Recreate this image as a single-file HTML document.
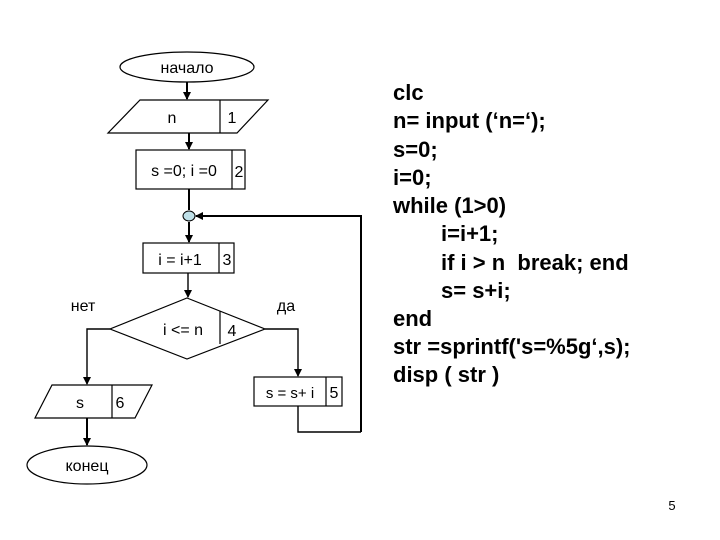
<!DOCTYPE html>
<html><head><meta charset="utf-8"><style>
body{margin:0;background:#fff;}
svg{display:block}
</style></head><body>
<svg width="720" height="540" viewBox="0 0 720 540" xmlns="http://www.w3.org/2000/svg" font-family="Liberation Sans, Arial, sans-serif">
<defs><marker id="a" markerWidth="8" markerHeight="8" refX="7" refY="4" orient="auto" markerUnits="userSpaceOnUse"><path d="M0,0 L8,4 L0,8 z" fill="#000"/></marker></defs>
<g fill="none" stroke="#000" stroke-width="1.2">
<ellipse cx="187" cy="67" rx="67" ry="15" fill="#fff"/>
<polygon points="140,100 268,100 237,133 108,133"/>
<line x1="220" y1="100" x2="220" y2="133"/>
<rect x="136" y="150" width="109" height="39"/>
<line x1="232" y1="150" x2="232" y2="189"/>
<rect x="143" y="243" width="91" height="30"/>
<line x1="219" y1="243" x2="219" y2="273"/>
<polygon points="187,298 265,329 187,359 110,329"/>
<line x1="220" y1="311" x2="220" y2="344"/>
<polygon points="52,385 152,385 135,418 35,418"/>
<line x1="112" y1="385" x2="112" y2="418"/>
<ellipse cx="87" cy="465" rx="60" ry="19"/>
<rect x="254" y="377" width="88" height="29"/>
<line x1="326" y1="377" x2="326" y2="406"/>
</g>
<g stroke="#000" stroke-width="2" fill="none">
<line x1="187" y1="82" x2="187" y2="99" marker-end="url(#a)"/>
<line x1="189" y1="133" x2="189" y2="149" marker-end="url(#a)"/>
<line x1="189" y1="189" x2="189" y2="210"/>
<line x1="189" y1="222" x2="189" y2="242" marker-end="url(#a)"/>
<polyline points="361,432 361,216 196,216" marker-end="url(#a)"/>
<line x1="87" y1="418" x2="87" y2="445" marker-end="url(#a)"/>
</g>
<g stroke="#000" stroke-width="1.4" fill="none">
<line x1="188" y1="273" x2="188" y2="297" marker-end="url(#a)"/>
<polyline points="110,329 87,329 87,384" marker-end="url(#a)"/>
<polyline points="265,329 298,329 298,376" marker-end="url(#a)"/>
<polyline points="298,406 298,432 361,432"/>
</g>
<ellipse cx="189" cy="216" rx="6" ry="5" fill="#bfe0e8" stroke="#000" stroke-width="1"/>
<g font-size="16" fill="#000">
<text x="187" y="73" text-anchor="middle">начало</text>
<text x="172" y="123" text-anchor="middle">n</text>
<text x="232" y="123" text-anchor="middle">1</text>
<text x="184" y="176" text-anchor="middle">s =0; i =0</text>
<text x="239" y="177" text-anchor="middle">2</text>
<text x="180" y="265" text-anchor="middle">i = i+1</text>
<text x="227" y="265" text-anchor="middle">3</text>
<text x="183" y="335" text-anchor="middle">i &lt;= n</text>
<text x="232" y="336" text-anchor="middle">4</text>
<text x="83" y="311" text-anchor="middle">нет</text>
<text x="286" y="311" text-anchor="middle">да</text>
<text x="80" y="408" text-anchor="middle">s</text>
<text x="120" y="408" text-anchor="middle">6</text>
<text x="290" y="398" text-anchor="middle" font-size="15">s = s+ i</text>
<text x="334" y="398" text-anchor="middle">5</text>
<text x="87" y="471" text-anchor="middle">конец</text>
<text x="672" y="510" text-anchor="middle" font-size="13">5</text>
</g>
<g font-size="22" font-weight="bold" fill="#000">
<text x="393" y="100">clc</text>
<text x="393" y="128">n= input (‘n=‘);</text>
<text x="393" y="157">s=0;</text>
<text x="393" y="185">i=0;</text>
<text x="393" y="213">while (1&gt;0)</text>
<text x="441" y="241">i=i+1;</text>
<text x="441" y="270">if i &gt; n&#160; break; end</text>
<text x="441" y="298">s= s+i;</text>
<text x="393" y="326">end</text>
<text x="393" y="354">str =sprintf('s=%5g‘,s);</text>
<text x="393" y="382">disp ( str )</text>
</g>
</svg>
</body></html>
